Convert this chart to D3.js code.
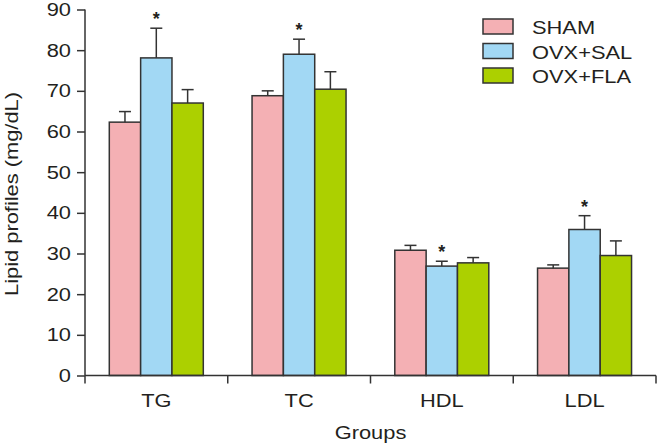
<!DOCTYPE html>
<html>
<head>
<meta charset="utf-8">
<script src="https://cdn.jsdelivr.net/npm/d3@7"></script>
<style>
  html, body { margin: 0; padding: 0; background: #fff; }
  svg text { font-family: "Liberation Sans", Arial, sans-serif; fill: #231f20; }
</style>
</head>
<body>
<svg id="chart" width="658" height="447"></svg>
<script>
const categories = ["TG", "TC", "HDL", "LDL"];
const seriesNames = ["SHAM", "OVX+SAL", "OVX+FLA"];
const shamValues   = [62.3, 68.8, 30.8, 26.4];
const shamErrors   = [2.6, 1.2, 1.2, 0.8];
const salValues    = [78.1, 79.0, 26.9, 35.9];
const salErrors    = [7.3, 3.7, 1.2, 3.4];
const flaValues    = [67.0, 70.4, 27.7, 29.5];
const flaErrors    = [3.3, 4.3, 1.3, 3.6];
const significant  = [[false, true, false], [false, true, false], [false, true, false], [false, true, false]];
const yTicks = [0, 10, 20, 30, 40, 50, 60, 70, 80, 90];
const colors = ["#f4b0b4", "#a2d8f4", "#acd000"];

const values = [shamValues, salValues, flaValues];
const errors = [shamErrors, salErrors, flaErrors];

const svg = d3.select("#chart");
const ink = "#333";
const sx = 1.15; // horizontal stretch of text

const y = d3.scaleLinear().domain([0, 90]).range([375.5, 9.5]);
const x = d3.scaleBand().domain(categories).range([85, 656]).padding(0);
const x1 = d3.scaleBand().domain(seriesNames).range([24.3, 118.3]).padding(0);

// bars
const data = [];
categories.forEach((c, ci) => {
  seriesNames.forEach((s, si) => {
    data.push({c, s, si, v: values[si][ci], e: errors[si][ci], sig: significant[ci][si]});
  });
});

const g = svg.append("g");
g.selectAll("rect.bar").data(data).join("rect")
  .attr("class", "bar")
  .attr("x", d => x(d.c) + x1(d.s))
  .attr("width", x1.bandwidth())
  .attr("y", d => y(d.v))
  .attr("height", d => y(0) - y(d.v))
  .attr("fill", d => colors[d.si])
  .attr("stroke", ink)
  .attr("stroke-width", 1.5);

// error bars
const cx = d => x(d.c) + x1(d.s) + x1.bandwidth() / 2;
g.selectAll("line.err").data(data).join("line")
  .attr("x1", cx).attr("x2", cx)
  .attr("y1", d => y(d.v)).attr("y2", d => y(d.v + d.e))
  .attr("stroke", ink).attr("stroke-width", 1.5);
g.selectAll("line.cap").data(data).join("line")
  .attr("x1", d => cx(d) - 6).attr("x2", d => cx(d) + 6)
  .attr("y1", d => y(d.v + d.e)).attr("y2", d => y(d.v + d.e))
  .attr("stroke", ink).attr("stroke-width", 1.5);

// asterisks
g.selectAll("text.sig").data(data.filter(d => d.sig)).join("text")
  .attr("text-anchor", "middle")
  .attr("transform", d => `translate(${cx(d)},${y(d.v + d.e) - 3})`)
  .attr("font-size", 18)
  .attr("font-weight", "bold")
  .text("*");

// y axis
const yAxis = svg.append("g")
  .attr("transform", "translate(85,0)")
  .call(d3.axisLeft(y).tickValues(yTicks).tickSize(8).tickPadding(4));
yAxis.select(".domain").attr("stroke", ink).attr("stroke-width", 1.5).attr("d", `M0,${y(90)}V${y(0)}`);
yAxis.selectAll(".tick line").attr("stroke", ink).attr("stroke-width", 1.5);
yAxis.selectAll(".tick text")
  .attr("font-size", 19)
  .attr("font-family", "Liberation Sans, Arial, sans-serif")
  .attr("fill", "#231f20")
  .attr("x", null)
  .attr("transform", `translate(-14,0) scale(${sx},1)`);

// x axis with boundary ticks
const xAxisG = svg.append("g");
xAxisG.append("line")
  .attr("x1", x.range()[0]).attr("x2", x.range()[1])
  .attr("y1", y(0)).attr("y2", y(0))
  .attr("stroke", ink).attr("stroke-width", 1.5);
const bounds = categories.map(c => x(c)).concat([x.range()[1]]);
xAxisG.selectAll("line.xt").data(bounds).join("line")
  .attr("x1", d => d).attr("x2", d => d)
  .attr("y1", y(0)).attr("y2", y(0) + 8)
  .attr("stroke", ink).attr("stroke-width", 1.5);
xAxisG.selectAll("text.cat").data(categories).join("text")
  .attr("text-anchor", "middle")
  .attr("font-size", 19)
  .attr("transform", d => `translate(${x(d) + x.bandwidth() / 2},407) scale(${sx},1)`)
  .text(d => d);

// axis titles
svg.append("text")
  .attr("text-anchor", "middle")
  .attr("font-size", 19)
  .attr("transform", `translate(${(x.range()[0] + x.range()[1]) / 2},439) scale(${sx},1)`)
  .text("Groups");
svg.append("text")
  .attr("text-anchor", "middle")
  .attr("font-size", 19)
  .attr("transform", `translate(18,194) rotate(-90) scale(${sx},1)`)
  .text("Lipid profiles (mg/dL)");

// legend
const legend = svg.append("g").attr("transform", "translate(483,19)");
const li = legend.selectAll("g").data(seriesNames).join("g")
  .attr("transform", (d, i) => `translate(0,${i * 24.5})`);
li.append("rect")
  .attr("width", 30).attr("height", 15)
  .attr("fill", (d, i) => colors[i])
  .attr("stroke", ink).attr("stroke-width", 1.5);
li.append("text")
  .attr("font-size", 19)
  .attr("transform", `translate(49,15) scale(${sx},1)`)
  .text(d => d);
</script>
</body>
</html>
